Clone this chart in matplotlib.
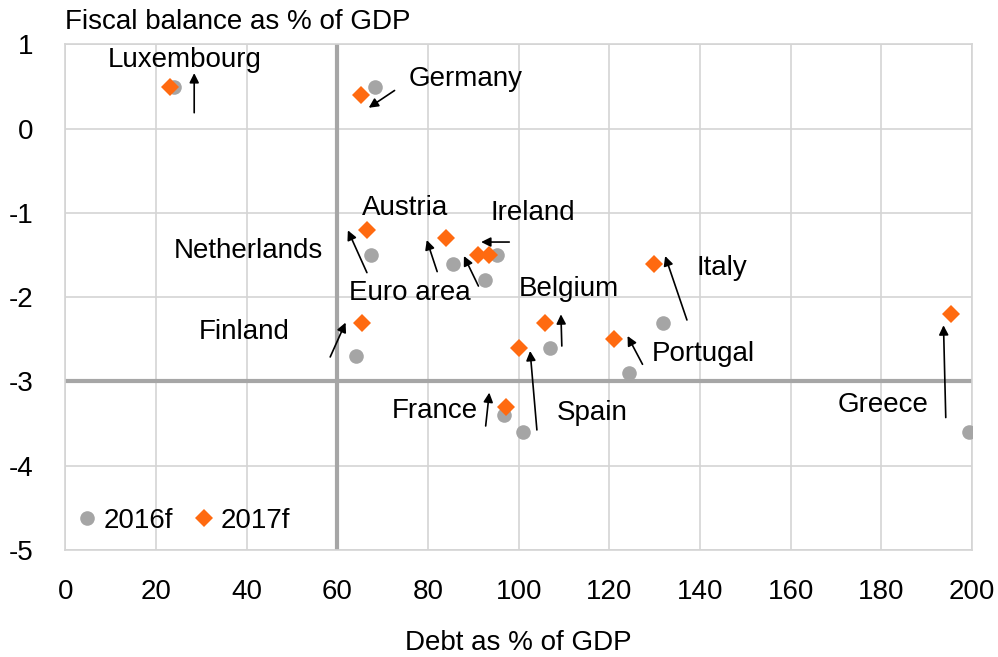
import matplotlib
matplotlib.use("Agg")
import matplotlib.pyplot as plt

plt.rcParams['font.family'] = ['Liberation Sans', 'DejaVu Sans']
plt.rcParams['axes.unicode_minus'] = False

countries = ["Luxembourg", "Germany", "Netherlands", "Austria", "Ireland", "Euro area",
             "Finland", "Italy", "Belgium", "Spain", "France", "Portugal", "Greece"]
debt_2016 = [24, 68.2, 67.5, 85.5, 95.2, 92.6, 64.2, 131.8, 106.8, 100.9, 96.8, 124.4, 199.4]
bal_2016 = [0.5, 0.5, -1.5, -1.6, -1.5, -1.8, -2.7, -2.3, -2.6, -3.6, -3.4, -2.9, -3.6]
debt_2017 = [23, 65.2, 66.6, 84.0, 93.5, 91.0, 65.4, 129.8, 105.8, 100.1, 97.2, 121.1, 195.4]
bal_2017 = [0.5, 0.4, -1.2, -1.3, -1.5, -1.5, -2.3, -1.6, -2.3, -2.6, -3.3, -2.5, -2.2]

# label anchor (left edge, vertical centre) in data units
label_x = [9.4, 75.8, 23.8, 65.4, 93.7, 62.6, 29.5, 139.3, 100.1, 108.4, 72.0, 129.3, 170.4]
label_y = [0.82, 0.585, -1.45, -0.945, -0.995, -1.954, -2.413, -1.649, -1.906, -3.369, -3.35, -2.677, -3.279]

# arrow tails and heads in data units
arrow_x0 = [28.4, 72.6, 66.5, 82.0, 97.9, 91.1, 58.4, 137.1, 109.5, 104.0, 92.7, 127.3, 194.2]
arrow_y0 = [0.19, 0.454, -1.708, -1.696, -1.345, -1.867, -2.709, -2.270, -2.579, -3.575, -3.528, -2.796, -3.428]
arrow_x1 = [28.4, 66.9, 62.3, 79.7, 91.7, 87.9, 61.8, 132.3, 109.3, 102.5, 93.5, 124.0, 193.7]
arrow_y1 = [0.66, 0.249, -1.206, -1.321, -1.345, -1.511, -2.301, -1.511, -2.203, -2.638, -3.132, -2.460, -2.333]

x_ticks = [0, 20, 40, 60, 80, 100, 120, 140, 160, 180, 200]
y_ticks = [-5, -4, -3, -2, -1, 0, 1]

GRAY = '#a5a5a5'
ORANGE = '#ff6a10'
GRID = '#d4d4d4'
REF = '#a6a6a6'
FS = 20

fig = plt.figure(figsize=(9.98, 6.57), dpi=100)
ax = fig.add_axes([0.0656, 0.1629, 0.9084, 0.7694])
ax.set_xlim(0, 200)
ax.set_ylim(-5, 1)
ax.set_xticks(x_ticks)
ax.set_yticks(y_ticks)
ax.grid(True, color=GRID, linewidth=1.2, zorder=0)
for s in ax.spines.values():
    s.set_color(GRID)
    s.set_linewidth(1.2)
ax.tick_params(length=0, labelsize=FS, colors='black')
ax.tick_params(axis='x', pad=21)
ax.tick_params(axis='y', pad=23)

ax.axvline(60, color=REF, linewidth=3, zorder=2.5)
ax.axhline(-3, color=REF, linewidth=3, zorder=2.5)

ax.plot(debt_2016, bal_2016, 'o', color=GRAY, markersize=10.5, markeredgewidth=0,
        label='2016f', zorder=3)
ax.plot(debt_2017, bal_2017, 'D', color=ORANGE, markersize=9.5, markeredgewidth=0,
        label='2017f', zorder=4)

for i, name in enumerate(countries):
    ax.text(label_x[i], label_y[i], name, fontsize=FS, ha='left', va='center', zorder=5)
    ax.annotate('', xy=(arrow_x1[i], arrow_y1[i]), xytext=(arrow_x0[i], arrow_y0[i]),
                arrowprops=dict(arrowstyle='-|>', color='black', lw=1.2,
                                mutation_scale=14, shrinkA=0, shrinkB=0), zorder=5)

leg = ax.legend(loc='lower left', bbox_to_anchor=(-0.013, -0.006), ncol=2, frameon=False,
                fontsize=FS, handletextpad=0.1, columnspacing=0.6, handlelength=1.0,
                borderaxespad=0.3)

fig.text(0.0651, 0.966, 'Fiscal balance as % of GDP', fontsize=FS, ha='left', va='center')
ax.set_xlabel('Debt as % of GDP', fontsize=FS, labelpad=18)

fig.savefig('out.png', dpi=100)
